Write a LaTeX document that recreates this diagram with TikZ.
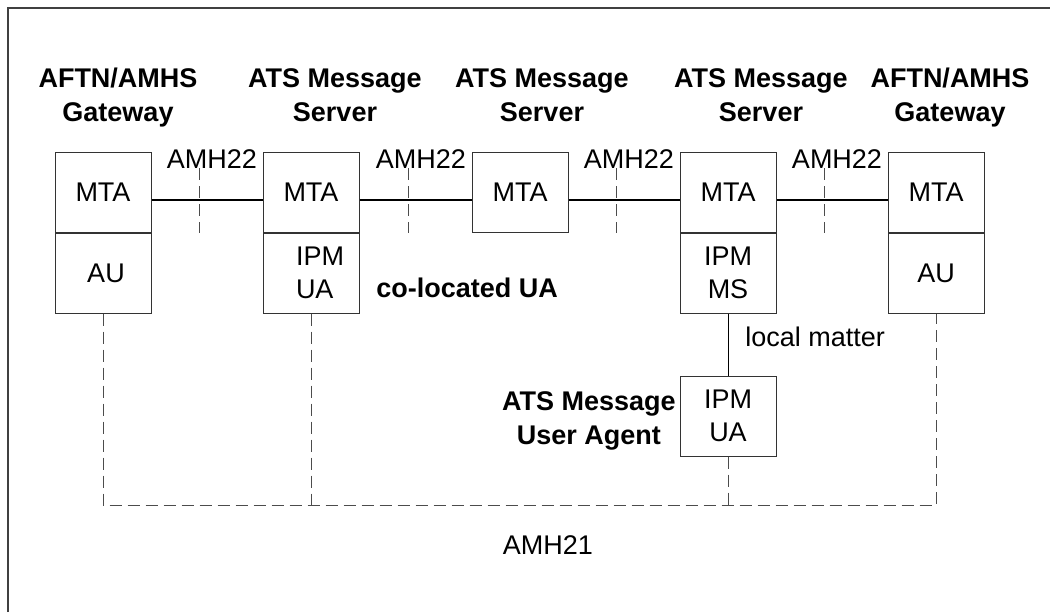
\documentclass[tikz,border=0pt]{standalone}
\usepackage{fontspec}
\setmainfont{Liberation Sans}
\usetikzlibrary{positioning}
\tikzset{
    every node/.style ={
        font=\fontsize{13.5}{16.5}\selectfont
    },
    unit/.style ={
        shape=rectangle,
        draw=black!80,
        line width=0.5pt,
        minimum width=48pt,
        minimum height=40pt,
        inner sep=0pt,
        align=center
    },
    head/.style ={
        font=\fontsize{13.5}{17}\selectfont\bfseries,
        align=center,
        inner sep=0pt,
        anchor=north
    },
    lbl/.style ={
        inner sep=0pt
    },
    link/.style ={
        line width=1pt,
        draw=black
    },
    amhdash/.style ={
        draw=black!70,
        line width=0.5pt,
        dash pattern=on 6pt off 3pt
    },
    frame/.style ={
        draw=black!75,
        line width=1pt
    }
}
\begin{document}
\begin{tikzpicture}[x=0.5pt,y=-0.5pt]
    \useasboundingbox (0,0) rectangle (1050,612);
    \draw[frame] (8,612) -- (8,8) -- (1050,8);

    % titles
    \node[head] (gwl) at (118,68) {AFTN/AMHS\\Gateway};
    \node[head] (srv1) at (335,68) {ATS Message\\Server};
    \node[head] (srv2) at (542,68) {ATS Message\\Server};
    \node[head] (srv3) at (761,68) {ATS Message\\Server};
    \node[head] (gwr) at (950,68) {AFTN/AMHS\\Gateway};

    % boxes
    \node[unit] (mta1) at (103,192) {MTA};
    \node[unit,below=0pt of mta1] (au1) {\hspace*{3pt}AU};
    \node[unit] (mta2) at (311,192) {MTA};
    \node[unit,align=left,below=0pt of mta2] (ua2) {\hspace*{9pt}IPM\\\hspace*{9pt}UA};
    \node[unit] (mta3) at (520,192) {MTA};
    \node[unit] (mta4) at (728,192) {MTA};
    \node[unit,below=0pt of mta4] (ms4) {IPM\\MS};
    \node[unit] (mta5) at (936,192) {MTA};
    \node[unit,below=0pt of mta5] (au5) {AU};
    \node[unit] (ua4) at (728,416) {IPM\\UA};

    \node[lbl,anchor=west] (coloc) at (376,288) {\bfseries co-located UA};
    \node[lbl,anchor=west] (local) at (745,337) {local matter};
    \node[head,anchor=north east] (uatitle) at (676,391) {ATS Message\\User Agent};
    \node[lbl] (amh21) at (548,545) {AMH21};

    % AMH22 links
    \foreach \a/\b in {mta1/mta2,mta2/mta3,mta3/mta4,mta4/mta5}
        \draw[link] ([yshift=-4pt]\a.east) -- ([yshift=-4pt]\b.west);
    \foreach \i/\x in {1/199,2/408,3/616,4/824}{
        \node[lbl] (amh\i) at (\x+13,159) {AMH22};
        \draw[amhdash] (\x,168) -- (\x,233);
    }

    % local matter and AMH21
    \draw[line width=0.5pt] (ms4.south) -- (ua4.north);
    \coordinate (busline) at (0,505);
    \draw[amhdash] (au1.south) -- (au1.south |- busline) -- (au5.south |- busline) -- (au5.south);
    \draw[amhdash] (ua2.south) -- (ua2.south |- busline);
    \draw[amhdash] (ua4.south) -- (ua4.south |- busline);
\end{tikzpicture}
\end{document}
